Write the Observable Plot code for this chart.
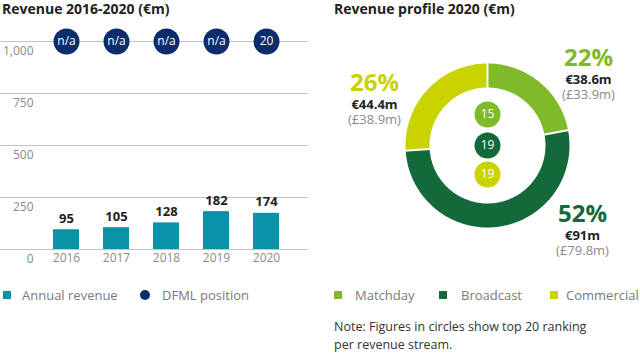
<!DOCTYPE html>
<html><head><meta charset="utf-8">
<script src="https://cdn.jsdelivr.net/npm/d3@7"></script>
<script src="https://cdn.jsdelivr.net/npm/@observablehq/plot@0.6"></script>
<style>
body{margin:0;width:640px;height:354px;position:relative;overflow:hidden;font-family:"Open Sans",sans-serif;background:#fff}
.abs{position:absolute}
.title{font-weight:700;font-size:14px;color:#222;top:0;line-height:17px;white-space:nowrap}
.leg{font-size:13px;color:#7a7a7a;line-height:18px;top:286px;white-space:nowrap}
.sq{width:8px;height:8px;top:291px}
.note{font-size:12.5px;color:#333;line-height:18px;left:334px;top:318px}
</style></head><body>
<div class="abs title" style="left:2px">Revenue 2016-2020 (€m)</div>
<div class="abs title" style="left:334px">Revenue profile 2020 (€m)</div>
<div id="left" class="abs" style="left:0;top:28px"></div>
<div id="right" class="abs" style="left:320px;top:28px"></div>
<div id="legL"></div>
<div id="legR"></div>
<div class="abs note">Note: Figures in circles show top 20 ranking<br>per revenue stream.</div>
<script>
// ---- data ----
const years = ["2016", "2017", "2018", "2019", "2020"];
const revenue = [95, 105, 128, 182, 174];
const dfmlPosition = ["n/a", "n/a", "n/a", "n/a", "20"];
const yTicks = [0, 250, 500, 750, 1000];
const seriesNames = ["Annual revenue", "DFML position"];

const streams = ["Matchday", "Broadcast", "Commercial"];
const shares = [22, 52, 26];
const eurLabels = ["€38.6m", "€91m", "€44.4m"];
const gbpLabels = ["(£33.9m)", "(£79.8m)", "(£38.9m)"];
const ranks = [15, 19, 19];

// ---- styles ----
const teal = "#0a93a8", navy = "#0c2c6c";
const streamColors = ["#7fba2b", "#13693a", "#c8d300"];
const font = {fontFamily: "Open Sans, sans-serif", background: "transparent", overflow: "visible"};

// ---- left chart ----
const barData = years.map((y, i) => ({year: y, revenue: revenue[i], pos: dfmlPosition[i]}));
const left = Plot.plot({
  width: 320, height: 251,
  marginLeft: 0, marginRight: 12, marginTop: 13, marginBottom: 30,
  style: font,
  x: {type: "band", domain: years, range: [41, 291], paddingInner: 0.48, paddingOuter: 0.24, align: 0.5},
  y: {domain: [0, 1000]},
  marks: [
    Plot.ruleY(yTicks, {stroke: "#c4c4c4", strokeWidth: 1}),
    Plot.barY(barData, {x: "year", y: "revenue", fill: teal}),
    Plot.text(barData, {x: "year", y: "revenue", text: d => d.revenue, dy: -11, fontWeight: 700, fontSize: 13, fill: "#222"}),
    Plot.dot(barData, {x: "year", y: 1000, r: 13, fill: navy}),
    Plot.text(barData, {x: "year", y: 1000, text: "pos", fill: "white", fontSize: 12}),
    Plot.axisY(yTicks, {anchor: "left", tickSize: 0, tickPadding: 0, dx: 33, dy: 10, tickFormat: d3.format(","), fill: "#8a8a8a", fontSize: 12, label: null}),
    Plot.axisX({tickSize: 0, tickPadding: 4, fill: "#8a8a8a", fontSize: 12, label: null})
  ]
});
document.getElementById("left").appendChild(left);

// ---- right chart (donut) ----
const cx = 167, cy = 117, rMid = 70, rIn = 58, rOut = 82, ringW = 24;
const rad = a => a * Math.PI / 180;
let cum = 0;
const segs = streams.map((s, i) => {
  const a0 = cum * 3.6; cum += shares[i]; const a1 = cum * 3.6;
  return {stream: s, a0, a1};
});
const arcPts = segs.flatMap(s => d3.range(0, 61).map(t => {
  const a = rad(s.a0 + (s.a1 - s.a0) * t / 60);
  return {stream: s.stream, x: cx + rMid * Math.sin(a), y: cy - rMid * Math.cos(a)};
}));
const bounds = segs.map(s => ({a: rad(s.a0)}));
const rankOffsets = [-31, 0, 29];
const rankData = streams.map((s, i) => ({stream: s, rank: ranks[i], y: cy + rankOffsets[i]}));
const labelPos = [{x: 268, y: 30}, {x: 262, y: 186}, {x: 54, y: 55}];
const labData = streams.map((s, i) => ({stream: s, pct: shares[i] + "%", eur: eurLabels[i], gbp: gbpLabels[i], x: labelPos[i].x, y: labelPos[i].y}));

const right = Plot.plot({
  width: 320, height: 250, margin: 0,
  style: font,
  x: {domain: [0, 320], range: [0, 320], axis: null},
  y: {domain: [0, 250], range: [0, 250], axis: null},
  color: {domain: streams, range: streamColors},
  marks: [
    Plot.line(arcPts, {x: "x", y: "y", z: "stream", stroke: "stream", strokeWidth: ringW, strokeLinecap: "butt", strokeLinejoin: "round"}),
    Plot.link(bounds, {x1: d => cx + (rIn - 1) * Math.sin(d.a), y1: d => cy - (rIn - 1) * Math.cos(d.a),
                       x2: d => cx + (rOut + 1) * Math.sin(d.a), y2: d => cy - (rOut + 1) * Math.cos(d.a),
                       stroke: "white", strokeWidth: 2}),
    Plot.dot(rankData, {x: cx, y: "y", r: 13, fill: "stream"}),
    Plot.text(rankData, {x: cx, y: "y", text: "rank", fill: "white", fontSize: 12}),
    Plot.text(labData, {x: "x", y: "y", text: "pct", fill: "stream", fontSize: 24, fontWeight: 700}),
    Plot.text(labData, {x: "x", y: "y", text: "eur", dy: 21, fill: "#222", fontSize: 13, fontWeight: 700}),
    Plot.text(labData, {x: "x", y: "y", text: "gbp", dy: 36, fill: "#8a8a8a", fontSize: 13})
  ]
});
document.getElementById("right").appendChild(right);

// ---- legends ----
const legL = document.getElementById("legL");
legL.innerHTML =
  `<div class="abs sq" style="left:3px;background:${teal}"></div>` +
  `<div class="abs leg" style="left:22px">${seriesNames[0]}</div>` +
  `<div class="abs" style="left:140px;top:290px;width:10px;height:10px;border-radius:50%;background:${navy}"></div>` +
  `<div class="abs leg" style="left:162px">${seriesNames[1]}</div>`;
const legR = document.getElementById("legR");
const sqX = [334, 439, 550], txX = [355, 461, 566];
legR.innerHTML = streams.map((s, i) =>
  `<div class="abs sq" style="left:${sqX[i]}px;background:${streamColors[i]}"></div>` +
  `<div class="abs leg" style="left:${txX[i]}px">${s}</div>`).join("");
</script>
</body></html>
